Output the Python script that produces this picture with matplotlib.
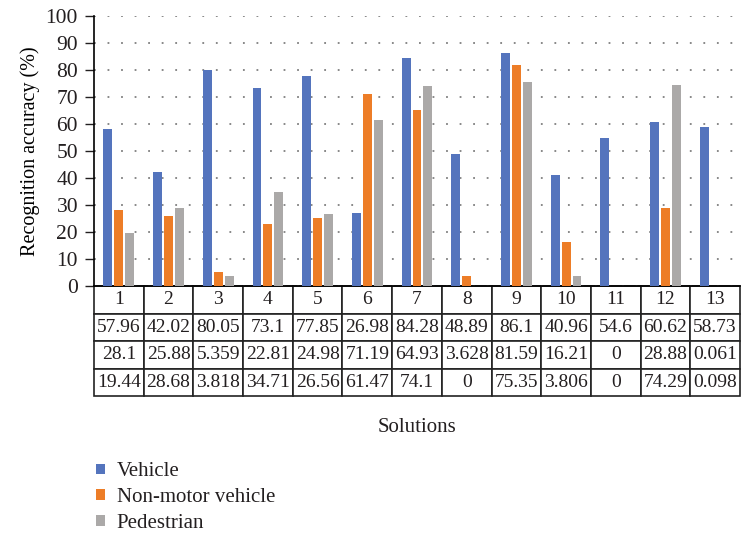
import numpy as np
import matplotlib
matplotlib.use('Agg')
from matplotlib import pyplot as plt
from matplotlib.patches import Patch

solutions = ['1', '2', '3', '4', '5', '6', '7', '8', '9', '10', '11', '12', '13']
vehicle = [57.96, 42.02, 80.05, 73.1, 77.85, 26.98, 84.28, 48.89, 86.1, 40.96, 54.6, 60.62, 58.73]
non_motor = [28.1, 25.88, 5.359, 22.81, 24.98, 71.19, 64.93, 3.628, 81.59, 16.21, 0, 28.88, 0.061]
pedestrian = [19.44, 28.68, 3.818, 34.71, 26.56, 61.47, 74.1, 0, 75.35, 3.806, 0, 74.29, 0.098]
series_names = ['Vehicle', 'Non-motor vehicle', 'Pedestrian']

colors = ['#5474bd', '#ed7d27', '#aba9a8']
text_color = '#231f20'

plt.rcParams['font.family'] = ['Liberation Serif', 'DejaVu Serif']
plt.rcParams['text.color'] = text_color

fig = plt.figure(figsize=(7.43, 5.37), dpi=100)
ax = fig.add_axes([94 / 743, 1 - 286 / 537, (740 - 94) / 743, (286 - 15.7) / 537])

x = np.arange(len(solutions))
w = 0.18
off = 0.22
for i, (vals, c) in enumerate(zip([vehicle, non_motor, pedestrian], colors)):
    ax.bar(x + (i - 1) * off, vals, width=w, color=c, zorder=3)

ax.set_xlim(-0.5, len(solutions) - 0.5)
ax.set_ylim(0, 100)
ax.set_yticks(np.arange(0, 101, 10))
ax.set_xticks([])
ax.yaxis.grid(True, linestyle=(0, (1, 6.5)), linewidth=1.3, color='#7f7f7f')
ax.set_axisbelow(True)
for s in ['top', 'right']:
    ax.spines[s].set_visible(False)
ax.spines['left'].set_linewidth(1.2)
ax.spines['bottom'].set_linewidth(1.2)
ax.tick_params(axis='y', direction='out', length=6.5, width=1.0, labelsize=15.5,
               pad=5, colors=text_color)
ax.set_ylabel('Recognition accuracy (%)', fontsize=14.5, labelpad=4)

# data table under the plot
cell_text = [solutions,
             [str(v) for v in vehicle],
             [str(v) for v in non_motor],
             [str(v) for v in pedestrian]]
tbl = ax.table(cellText=cell_text, cellLoc='center',
               bbox=[0, -(396 - 286) / 270.3, 1, (396 - 286) / 270.3])
tbl.auto_set_font_size(False)
tbl.set_fontsize(14)
for key, cell in tbl.get_celld().items():
    cell.set_linewidth(1.2)
    cell.set_edgecolor('#222222')
    cell.get_text().set_color(text_color)
    cell.PAD = 0.02

fig.text(417 / 743, 1 - 428 / 537, 'Solutions', ha='center', va='center', fontsize=15)

handles = [Patch(facecolor=c, edgecolor='none') for c in colors]
fig.legend(handles, series_names, loc='upper left', bbox_to_anchor=(88 / 743, 1 - 454 / 537),
           frameon=False, fontsize=15, handlelength=0.42, handleheight=0.42,
           handletextpad=0.55, labelspacing=0.32, borderaxespad=0)

fig.savefig('out.png', dpi=100)
